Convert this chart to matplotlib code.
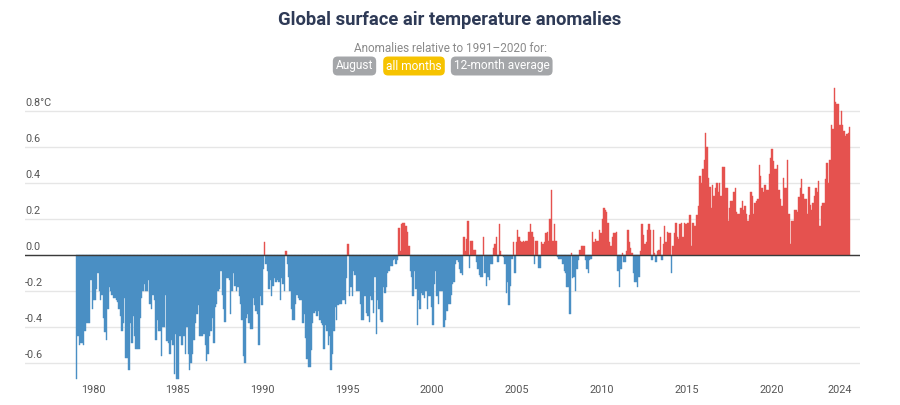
import numpy as np
import matplotlib
matplotlib.use("Agg")
import matplotlib.pyplot as plt
from matplotlib import font_manager

# monthly anomalies (deg C, vs 1991-2020), Jan 1979 .. Aug 2024
anom_1979_1989 = [
    -0.69, -0.45, -0.50, -0.49, -0.49, -0.50, -0.42, -0.38, -0.38, -0.38, -0.14, -0.30,  # 1979
    -0.25, -0.25, -0.19, -0.10, -0.20, -0.25, -0.22, -0.35, -0.43, -0.47, -0.30, -0.18,  # 1980
    -0.20, -0.22, -0.24, -0.24, -0.25, -0.26, -0.30, -0.34, -0.42, -0.38, -0.24, -0.57,  # 1981
    -0.57, -0.64, -0.38, -0.49, -0.34, -0.45, -0.52, -0.52, -0.52, -0.35, -0.24, -0.20,  # 1982
    -0.16, -0.20, -0.20, -0.14, -0.27, -0.30, -0.22, -0.25, -0.47, -0.36, -0.42, -0.42,  # 1983
    -0.56, -0.40, -0.40, -0.22, -0.48, -0.49, -0.55, -0.47, -0.50, -0.66, -0.44, -0.69,  # 1984
    -0.69, -0.45, -0.50, -0.50, -0.45, -0.55, -0.40, -0.55, -0.64, -0.60, -0.55, -0.47,  # 1985
    -0.38, -0.33, -0.28, -0.45, -0.45, -0.45, -0.44, -0.50, -0.59, -0.55, -0.45, -0.42,  # 1986
    -0.35, -0.49, -0.29, -0.27, -0.20, -0.19, -0.09, -0.22, -0.30, -0.37, -0.13, -0.13,  # 1987
    -0.14, -0.33, -0.20, -0.10, -0.17, -0.20, -0.18, -0.23, -0.27, -0.36, -0.56, -0.60,  # 1988
    -0.35, -0.33, -0.38, -0.41, -0.41, -0.24, -0.28, -0.31, -0.33, -0.50, -0.23, -0.28,  # 1989
]
anom_1990s = [
    -0.08, 0.07, -0.05, -0.09, -0.19, -0.14, -0.23, -0.17, -0.13, -0.15, -0.14, -0.15,   # 1990
    -0.25, -0.13, -0.16, -0.20, 0.02, -0.05, -0.12, -0.20, -0.30, -0.36, -0.36, -0.27,   # 1991
    -0.22, -0.24, -0.25, -0.25, -0.38, -0.33, -0.46, -0.58, -0.62, -0.62, -0.53, -0.38,  # 1992
    -0.32, -0.31, -0.34, -0.31, -0.36, -0.38, -0.39, -0.52, -0.39, -0.42, -0.50, -0.45,  # 1993
    -0.64, -0.55, -0.42, -0.29, -0.36, -0.28, -0.27, -0.27, -0.25, -0.25, -0.27, -0.13,  # 1994
    0.06, -0.23, -0.18, -0.23, -0.09, -0.11, -0.20, -0.20, -0.20, -0.27, -0.36, -0.36,   # 1995
    -0.23, -0.32, -0.34, -0.37, -0.23, -0.25, -0.32, -0.12, -0.44, -0.25, -0.30, -0.36,  # 1996
    -0.37, -0.18, -0.21, -0.18, -0.10, -0.09, -0.06, -0.06, -0.03, -0.02, -0.05, -0.03,  # 1997
    0.15, 0.02, 0.17, 0.18, 0.18, 0.16, 0.13, 0.05, -0.09, -0.12, -0.23, -0.09,          # 1998
    -0.19, -0.39, -0.25, -0.30, -0.21, -0.22, -0.24, -0.20, -0.30, -0.23, -0.23, -0.29,  # 1999
]
anom_2000s = [
    -0.39, -0.16, -0.09, -0.23, -0.27, -0.20, -0.20, -0.20, -0.40, -0.36, -0.31, -0.27,  # 2000
    -0.27, -0.22, -0.16, -0.15, -0.05, -0.03, -0.04, -0.08, -0.10, -0.11, 0.10, 0.02,    # 2001
    0.09, 0.19, -0.07, 0.08, 0.08, 0.03, 0.03, -0.04, -0.08, -0.11, -0.12, -0.12,        # 2002
    0.10, -0.10, -0.17, -0.12, -0.14, -0.05, -0.05, 0.04, 0.06, 0.10, -0.04, 0.17,       # 2003
    0.02, 0.00, -0.01, -0.05, -0.21, -0.15, -0.28, -0.17, -0.02, 0.07, -0.10, 0.07,      # 2004
    0.14, 0.10, 0.08, 0.07, 0.08, 0.07, 0.08, 0.08, 0.13, 0.17, 0.13, 0.10,              # 2005
    -0.05, 0.08, 0.08, -0.07, -0.07, 0.07, 0.06, 0.07, 0.12, 0.13, 0.08, 0.20,           # 2006
    0.36, 0.08, 0.17, 0.08, -0.01, -0.02, -0.02, -0.02, -0.05, -0.09, -0.10, -0.18,      # 2007
    -0.18, -0.33, 0.01, -0.13, -0.12, -0.20, -0.08, -0.03, 0.03, 0.05, 0.05, 0.05,       # 2008
    -0.03, -0.08, -0.10, -0.03, -0.02, 0.13, 0.07, 0.09, 0.08, 0.08, 0.14, 0.12,         # 2009
]
anom_2010s = [
    0.20, 0.26, 0.25, 0.24, 0.18, 0.07, 0.05, 0.10, 0.12, 0.12, 0.13, -0.09,   # 2010
    -0.18, -0.08, 0.01, -0.04, -0.04, 0.02, 0.14, 0.07, 0.04, 0.01, -0.10, -0.15,  # 2011
    -0.15, -0.18, -0.12, 0.02, 0.17, 0.11, 0.06, 0.07, 0.14, 0.17, 0.14, -0.03,  # 2012
    0.14, 0.01, -0.04, 0.02, 0.03, 0.10, -0.03, 0.06, 0.16, 0.07, 0.13, 0.12,    # 2013
    0.12, -0.10, 0.05, 0.12, 0.18, 0.10, 0.09, 0.17, 0.18, 0.10, 0.18, 0.17,     # 2014
    0.18, 0.18, 0.22, 0.05, 0.18, 0.16, 0.16, 0.22, 0.27, 0.44, 0.40, 0.48,      # 2015
    0.53, 0.68, 0.60, 0.43, 0.38, 0.26, 0.39, 0.33, 0.37, 0.40, 0.35, 0.40,      # 2016
    0.33, 0.49, 0.49, 0.37, 0.37, 0.19, 0.26, 0.30, 0.30, 0.35, 0.37, 0.24,      # 2017
    0.23, 0.23, 0.26, 0.30, 0.25, 0.27, 0.23, 0.19, 0.22, 0.35, 0.33, 0.23,      # 2018
    0.29, 0.30, 0.31, 0.50, 0.44, 0.37, 0.35, 0.39, 0.36, 0.36, 0.45, 0.54,      # 2019
]
anom_2020s = [
    0.59, 0.52, 0.48, 0.48, 0.50, 0.36, 0.31, 0.27, 0.43, 0.37, 0.37, 0.53,      # 2020
    0.23, 0.06, 0.19, 0.19, 0.25, 0.25, 0.24, 0.32, 0.37, 0.42, 0.34, 0.31,      # 2021
    0.31, 0.23, 0.38, 0.28, 0.25, 0.29, 0.33, 0.37, 0.35, 0.41, 0.16, 0.27,      # 2022
    0.29, 0.29, 0.42, 0.51, 0.40, 0.53, 0.72, 0.70, 0.93, 0.85, 0.84, 0.84,      # 2023
    0.72, 0.80, 0.72, 0.69, 0.66, 0.67, 0.68, 0.71,                              # 2024
]

year_ticks = [1980, 1985, 1990, 1995, 2000, 2005, 2010, 2015, 2020, 2024]
y_ticks = [-0.6, -0.4, -0.2, 0.0, 0.2, 0.4, 0.6, 0.8]
y_labels = ["-0.6", "-0.4", "-0.2", "0.0", "0.2", "0.4", "0.6", "0.8°C"]

vals = np.array(anom_1979_1989 + anom_1990s + anom_2000s + anom_2010s + anom_2020s)
t = 1979 + (np.arange(len(vals)) + 0.5) / 12

avail = {f.name for f in font_manager.fontManager.ttflist}
title_font = "Liberation Sans Narrow" if "Liberation Sans Narrow" in avail else "Roboto"
plt.rcParams["font.family"] = ["Roboto", "DejaVu Sans"]

BLUE = "#4a8fc4"
RED = "#e5524f"

fig = plt.figure(figsize=(9, 4.05), dpi=100)
ax = fig.add_axes([25 / 900, 1 - 382 / 405, 835 / 900, (382 - 85) / 405])

colors = np.where(vals >= 0, RED, BLUE)
ax.bar(t, vals, width=1 / 12, color=colors, linewidth=0.3, edgecolor=colors)

ax.set_xlim(1975.993, 2025.227)
ax.set_ylim(-0.7056, 0.9444)
ax.set_yticks(y_ticks)
ax.set_yticklabels([])
ax.grid(axis="y", color="#e6e6e6", lw=1.0)
ax.set_axisbelow(True)
ax.axhline(0, color="#3a3a3a", lw=1.0, zorder=3)
for s in ax.spines.values():
    s.set_visible(False)
ax.tick_params(axis="y", length=0)
ax.set_xticks(year_ticks)
ax.set_xticklabels([str(y) for y in year_ticks])
ax.tick_params(axis="x", length=0, pad=2, labelsize=7.8, labelcolor="#555555")

for v, lab in zip(y_ticks, y_labels):
    ax.text(0.0, v + 0.018, lab, transform=ax.get_yaxis_transform(),
            ha="left", va="bottom", fontsize=7.8, color="#555555")

# header
fig.text(0.5, 1 - 20 / 405, "Global surface air temperature anomalies",
         ha="center", va="center", fontsize=13.2, fontweight="bold",
         color="#2e3a56", family=title_font)
fig.text(0.5, 1 - 48.5 / 405, "Anomalies relative to 1991\u20132020 for:",
         ha="center", va="center", fontsize=8.5, color="#8a8a8a")

buttons = [("August", 354.5 / 900, "#a4a6a9"),
           ("all months", 414 / 900, "#f6c300"),
           ("12-month average", 501.7 / 900, "#a4a6a9")]
for lab, bx, bc in buttons:
    fig.text(bx, 1 - 66 / 405, lab, ha="center", va="center", fontsize=8.6,
             color="white",
             bbox=dict(boxstyle="round,pad=0.25,rounding_size=0.4", fc=bc, ec="none"))

fig.savefig("out.png", dpi=100)
